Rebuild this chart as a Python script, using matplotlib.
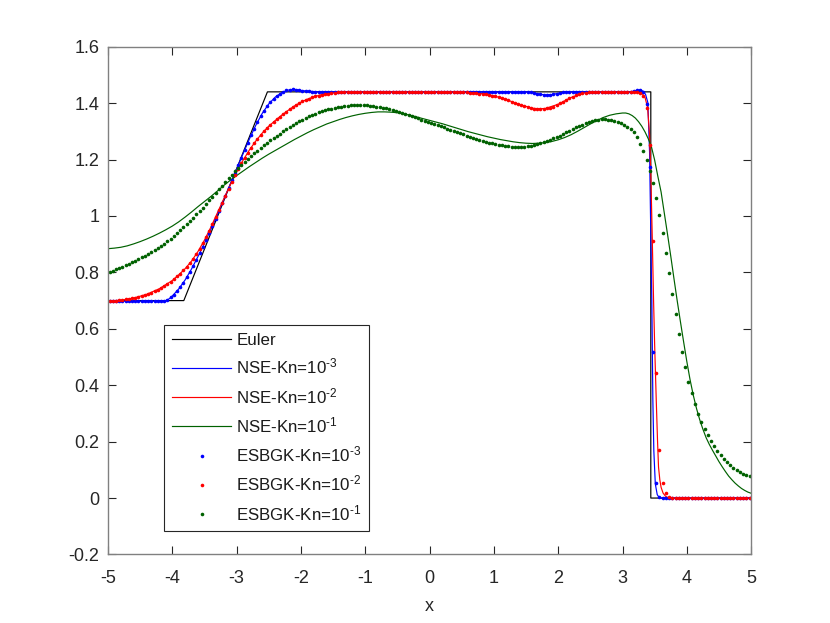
import numpy as np
import matplotlib
matplotlib.use("Agg")
import matplotlib.pyplot as plt

plt.rcParams['font.family'] = ['Liberation Sans', 'DejaVu Sans']
plt.rcParams['mathtext.fontset'] = 'custom'
plt.rcParams['mathtext.rm'] = 'Liberation Sans'
plt.rcParams['mathtext.default'] = 'regular'
plt.rcParams['axes.unicode_minus'] = False

# Euler (exact) solution
x_euler = [-5.0, -3.82, -2.52, 3.44, 3.44, 5.0]
y_euler = [0.70, 0.70, 1.44, 1.44, 0.0, 0.0]

# NSE Kn=1e-3
x_nse3 = [-5.0, -4.2, -4.1, -4.05, -4.0,
          -3.9, -3.8, -3.7, -3.6, -3.5, -3.4, -3.3, -3.2, -3.1, -3.0, -2.9, -2.8,
          -2.7, -2.6, -2.5, -2.4, -2.3, -2.2, -2.1, -2.0, -1.9, -1.8, -1.7,
          1.5, 1.6, 1.7, 1.8, 1.9, 2.0, 2.1, 2.2,
          3.1, 3.2, 3.28, 3.33, 3.36, 3.394, 3.421, 3.447, 3.456, 3.472, 3.487,
          3.51, 3.54, 3.576, 5.0]
y_nse3 = [0.698, 0.698, 0.700, 0.706, 0.716,
          0.741, 0.773, 0.812, 0.856, 0.903, 0.952, 1.004, 1.058, 1.112, 1.166, 1.220, 1.273,
          1.322, 1.364, 1.397, 1.421, 1.437, 1.446, 1.449, 1.445, 1.443, 1.441, 1.440,
          1.440, 1.437, 1.432, 1.429, 1.430, 1.435, 1.439, 1.440,
          1.440, 1.443, 1.447, 1.441, 1.430, 1.402, 1.224, 0.823, 0.700, 0.345, 0.168,
          0.050, 0.012, 0.0, 0.0]

# NSE Kn=1e-2
x_nse2 = [-5.0, -4.8, -4.6, -4.4, -4.2,
          -4.0, -3.9, -3.8, -3.7, -3.6, -3.5, -3.4, -3.3, -3.2, -3.1, -3.0, -2.9, -2.8, -2.7,
          -2.6, -2.5, -2.4, -2.3, -2.2, -2.1, -2.0, -1.9, -1.8, -1.7, -1.6, -1.5, -1.4, -1.3,
          0.4, 0.6, 0.8, 1.0, 1.2, 1.4, 1.6, 1.7, 1.8, 2.0, 2.2, 2.4, 2.6,
          3.2, 3.3, 3.35, 3.39, 3.42, 3.44, 3.46, 3.483, 3.50, 3.525, 3.545, 3.56,
          3.58, 3.60, 3.63, 3.67, 3.72, 5.0]
y_nse2 = [0.699, 0.701, 0.709, 0.722, 0.742,
          0.771, 0.791, 0.813, 0.840, 0.874, 0.914, 0.960, 1.010, 1.060, 1.109, 1.155, 1.197, 1.234, 1.266,
          1.294, 1.318, 1.338, 1.357, 1.374, 1.390, 1.403, 1.414, 1.422, 1.429, 1.433, 1.436, 1.439, 1.440,
          1.440, 1.438, 1.434, 1.426, 1.412, 1.395, 1.382, 1.380, 1.381, 1.396, 1.420, 1.436, 1.440,
          1.440, 1.436, 1.420, 1.385, 1.290, 1.150, 0.950, 0.700, 0.540, 0.345, 0.200, 0.110,
          0.065, 0.038, 0.018, 0.006, 0.0, 0.0]

# NSE Kn=1e-1, read every 0.1 up to x=3 and every 0.05 after
x_nse1 = np.concatenate([np.linspace(-5.0, 3.0, 81), np.linspace(3.05, 5.0, 40)])
y_nse1 = [0.884, 0.886, 0.889, 0.894, 0.901, 0.909, 0.918, 0.928, 0.939, 0.951, 0.964,
          0.979, 0.996, 1.014, 1.033, 1.051, 1.069, 1.088, 1.108, 1.126, 1.143,
          1.159, 1.175, 1.190, 1.205, 1.219, 1.232, 1.245, 1.258, 1.271, 1.283,
          1.295, 1.306, 1.316, 1.326, 1.334, 1.342, 1.349, 1.355, 1.360, 1.364,
          1.367, 1.369, 1.369, 1.368, 1.366, 1.362, 1.357, 1.351, 1.345, 1.339,
          1.333, 1.327, 1.320, 1.313, 1.306, 1.299, 1.293, 1.287, 1.281, 1.276,
          1.271, 1.267, 1.263, 1.260, 1.258, 1.257, 1.258, 1.260, 1.264, 1.270,
          1.278, 1.288, 1.300, 1.313, 1.326, 1.338, 1.349, 1.357, 1.362, 1.365,
          1.365, 1.362, 1.356, 1.347, 1.334, 1.318, 1.298, 1.274, 1.245, 1.198,
          1.140, 1.085, 1.010, 0.935, 0.858, 0.778, 0.700, 0.626, 0.554, 0.484,
          0.420, 0.365, 0.318, 0.278, 0.244, 0.214, 0.190, 0.169, 0.149, 0.129,
          0.111, 0.094, 0.078, 0.065, 0.053, 0.043, 0.034, 0.027, 0.021, 0.017]

# ESBGK solutions at the 200 cell centres
x_cells = np.linspace(-4.975, 4.975, 200)

bgk3 = ([0.698] * 17 +
        [0.699, 0.703, 0.711, 0.721, 0.734, 0.748, 0.764, 0.782, 0.802, 0.823,
         0.845, 0.868, 0.891, 0.915, 0.940, 0.965, 0.991, 1.018, 1.045, 1.072,
         1.099, 1.126, 1.153, 1.180, 1.207, 1.234, 1.260, 1.286, 1.310, 1.333,
         1.354, 1.373, 1.390, 1.404, 1.416, 1.426, 1.434, 1.440, 1.445, 1.448,
         1.449, 1.448, 1.446, 1.444, 1.443, 1.442, 1.441] +
        [1.440] * 67 +
        [1.438, 1.436, 1.433, 1.431, 1.429, 1.428, 1.429, 1.431, 1.434, 1.437, 1.439] +
        [1.440] * 21 +
        [1.442, 1.445, 1.447, 1.440, 1.396, 1.174, 0.519, 0.055, 0.002] +
        [0.0] * 28)

bgk2 = ([0.699, 0.700, 0.700, 0.701, 0.702, 0.704, 0.706, 0.708, 0.710, 0.713,
         0.716, 0.720, 0.724, 0.728, 0.733, 0.739, 0.745, 0.752, 0.759, 0.767,
         0.776, 0.786, 0.796, 0.807, 0.820, 0.833, 0.848,
         0.865, 0.883, 0.903, 0.925, 0.948, 0.972, 0.997, 1.022, 1.047, 1.072,
         1.097, 1.121, 1.144, 1.166, 1.187, 1.207, 1.225, 1.242, 1.258, 1.273,
         1.287, 1.300, 1.312, 1.323, 1.333, 1.343, 1.352, 1.361, 1.369, 1.378,
         1.386, 1.393, 1.400, 1.406, 1.411, 1.416, 1.420, 1.424, 1.427, 1.430,
         1.432, 1.434, 1.436, 1.437, 1.438, 1.439] +
        [1.440] * 36 +
        [1.439, 1.439, 1.438, 1.437, 1.436, 1.435, 1.434, 1.433, 1.431, 1.429,
         1.427, 1.424, 1.421, 1.418, 1.414, 1.410, 1.405, 1.401, 1.397, 1.393,
         1.389, 1.386, 1.383, 1.381, 1.380, 1.380, 1.380, 1.382, 1.384, 1.388,
         1.393, 1.399, 1.405, 1.411, 1.417, 1.423, 1.428, 1.432, 1.435, 1.437,
         1.439] +
        [1.440] * 15 +
        [1.437, 1.426, 1.383, 1.250, 0.912, 0.443, 0.170, 0.055, 0.018, 0.004, 0.001] +
        [0.0] * 24)

bgk1 = [0.802, 0.806, 0.811, 0.816, 0.820, 0.825, 0.830, 0.836, 0.841, 0.847,
        0.853, 0.859, 0.866, 0.872, 0.879, 0.886, 0.893, 0.901, 0.910, 0.919,
        0.929, 0.939, 0.949, 0.960, 0.971, 0.982, 0.994, 1.006, 1.018, 1.030,
        1.043, 1.056, 1.069, 1.082, 1.095, 1.108, 1.121, 1.134, 1.147, 1.159,
        1.170, 1.181, 1.192, 1.203, 1.213, 1.223, 1.232, 1.241, 1.250, 1.259,
        1.268, 1.276, 1.284, 1.292, 1.300, 1.308, 1.315, 1.322, 1.329, 1.336,
        1.342, 1.348, 1.353, 1.358, 1.363, 1.367, 1.371, 1.375, 1.378, 1.381,
        1.384, 1.386, 1.388, 1.390, 1.391, 1.392, 1.393, 1.393, 1.393, 1.393,
        1.392, 1.391, 1.390, 1.388, 1.386, 1.384, 1.382, 1.379, 1.376, 1.373,
        1.370, 1.366, 1.362, 1.358, 1.354, 1.350, 1.346, 1.342, 1.338, 1.334,
        1.330, 1.326, 1.322, 1.318, 1.314, 1.310, 1.305, 1.301, 1.297, 1.293,
        1.289, 1.285, 1.281, 1.277, 1.273, 1.270, 1.266, 1.263, 1.260, 1.257,
        1.255, 1.253, 1.251, 1.249, 1.247, 1.246, 1.245, 1.245, 1.245, 1.246,
        1.247, 1.249, 1.251, 1.254, 1.257, 1.261, 1.265, 1.270, 1.275, 1.280,
        1.285, 1.291, 1.297, 1.303, 1.309, 1.314, 1.319, 1.324, 1.329, 1.333,
        1.337, 1.340, 1.342, 1.343, 1.343, 1.342, 1.340, 1.337, 1.333, 1.328,
        1.322, 1.316, 1.309, 1.296, 1.279, 1.256, 1.230, 1.199, 1.160, 1.116,
        1.063, 1.004, 0.939, 0.869, 0.797, 0.723, 0.651, 0.583, 0.519, 0.463,
        0.413, 0.371, 0.332, 0.299, 0.269, 0.244, 0.222, 0.202, 0.184, 0.168,
        0.153, 0.139, 0.127, 0.117, 0.108, 0.100, 0.093, 0.087, 0.082, 0.078]

green = (0.0, 0.38, 0.0)
hy = '\u2010'

fig = plt.figure(figsize=(8.3, 6.23), dpi=100)
ax = fig.add_axes([0.13, 0.11, 0.775, 0.815])

lw = 0.85
ms = 2.6
ax.plot(x_euler, y_euler, color='k', lw=lw, label='Euler')
ax.plot(x_nse3, y_nse3, color='b', lw=lw, label='NSE-Kn=10$^{' + hy + '3}$')
ax.plot(x_nse2, y_nse2, color='r', lw=lw, label='NSE-Kn=10$^{' + hy + '2}$')
ax.plot(x_nse1, y_nse1, color=green, lw=lw, label='NSE-Kn=10$^{' + hy + '1}$')
ax.plot(x_cells, bgk3, ls='none', marker='o', ms=ms, mew=0, color='b',
        label='ESBGK-Kn=10$^{' + hy + '3}$')
ax.plot(x_cells, bgk2, ls='none', marker='o', ms=ms, mew=0, color='r',
        label='ESBGK-Kn=10$^{' + hy + '2}$')
ax.plot(x_cells, bgk1, ls='none', marker='o', ms=ms, mew=0, color=green,
        label='ESBGK-Kn=10$^{' + hy + '1}$')

ax.set_xlim(-5, 5)
ax.set_ylim(-0.2, 1.6)
ax.set_xticks(np.arange(-5, 6, 1))
yt = np.round(np.arange(-0.2, 1.61, 0.2), 1)
ax.set_yticks(yt)
ax.set_yticklabels([f'{v:g}' for v in yt])
ax.set_xlabel('x', fontsize=13, color='#262626', labelpad=8)

for s in ax.spines.values():
    s.set_color('#808080')
    s.set_linewidth(1.0)
ax.tick_params(direction='in', length=6, width=0.8, top=True, right=True,
               labelsize=13, colors='#262626')
ax.tick_params(axis='x', pad=11)
ax.tick_params(axis='y', pad=6)

leg = ax.legend(loc='lower left', bbox_to_anchor=(0.0879, 0.047), borderaxespad=0,
                fancybox=False, framealpha=1, edgecolor='#262626', fontsize=12.2,
                handlelength=3.5, handletextpad=0.3, labelspacing=0.55,
                borderpad=0.45, numpoints=1)
leg.get_frame().set_linewidth(0.8)
for t in leg.get_texts():
    t.set_color('#1a1a1a')

fig.savefig('out.png', dpi=100)
